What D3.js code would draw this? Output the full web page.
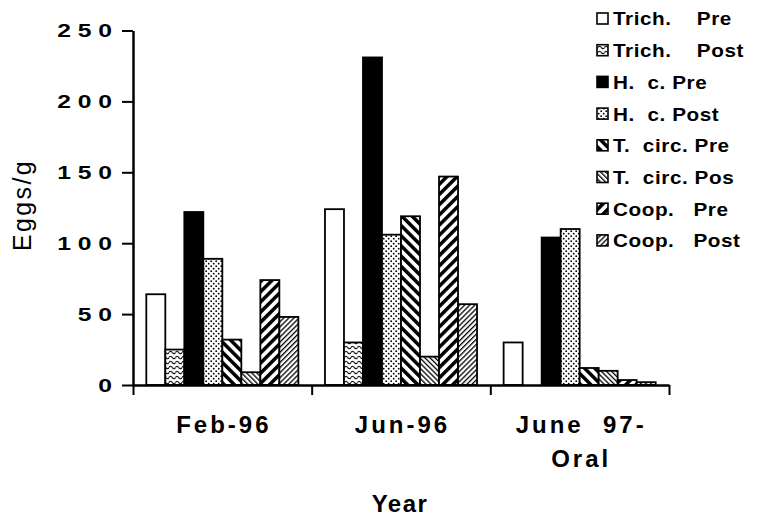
<!DOCTYPE html>
<html><head><meta charset="utf-8">
<script src="https://cdn.jsdelivr.net/npm/d3@7"></script>
<style>body{margin:0;background:#fff} svg{display:block;background:#fff}</style>
</head><body><svg id="c" width="760" height="517"></svg>
<script>
// ---- data ----
const categories = ["Feb-96", "Jun-96", "June 97-Oral"];
const categoryLines = [["Feb-96"], ["Jun-96"], ["June  97-", "Oral"]];
const seriesNames = ["Trich. Pre","Trich. Post","H. c. Pre","H. c. Post","T. circ. Pre","T. circ. Pos","Coop. Pre","Coop. Post"];
const legendLabels = ["Trich.    Pre","Trich.    Post","H.  c. Pre","H.  c. Post","T.  circ. Pre","T.  circ. Pos","Coop.   Pre","Coop.   Post"];
const trichPre  = [64, 124, 30];
const trichPost = [25, 30, 0];
const hcPre     = [122, 231, 104];
const hcPost    = [89, 106, 110];
const tcircPre  = [32, 119, 12];
const tcircPost = [9, 20, 10];
const coopPre   = [74, 147, 3.5];
const coopPost  = [48, 57, 2];
const yTicks = [0, 50, 100, 150, 200, 250];
const yTitle = "Eggs/g";
const xTitle = "Year";

const seriesValues = [trichPre, trichPost, hcPre, hcPost, tcircPre, tcircPost, coopPre, coopPost];
const fills = ["#fff","url(#wave)","#000","url(#dots)","url(#bsThick)","url(#bsThin)","url(#fsThick)","url(#fsThin)"];
const FONT = "'Liberation Sans', Arial, Helvetica, sans-serif";

const svg = d3.select("#c");
const defs = svg.append("defs");

// wavy pattern
const pw = defs.append("pattern").attr("id","wave").attr("patternUnits","userSpaceOnUse")
  .attr("width",6.5).attr("height",5);
pw.append("rect").attr("width",6.5).attr("height",5).attr("fill","#fff");
pw.append("path").attr("d","M0,2.5 Q1.625,0 3.25,2.5 T6.5,2.5").attr("fill","none").attr("stroke","#000").attr("stroke-width",1.2);

// dots
const pd = defs.append("pattern").attr("id","dots").attr("patternUnits","userSpaceOnUse")
  .attr("width",5).attr("height",5);
pd.append("rect").attr("width",5).attr("height",5).attr("fill","#fff");
pd.append("circle").attr("cx",1.2).attr("cy",1.2).attr("r",0.9).attr("fill","#000");
pd.append("circle").attr("cx",3.7).attr("cy",3.7).attr("r",0.9).attr("fill","#000");

function stripes(id, period, width, angle) {
  const p = defs.append("pattern").attr("id", id).attr("patternUnits","userSpaceOnUse")
    .attr("width", period).attr("height", period).attr("patternTransform", `rotate(${angle})`);
  p.append("rect").attr("width", period).attr("height", period).attr("fill","#fff");
  p.append("rect").attr("width", width).attr("height", period).attr("fill","#000");
}
stripes("bsThick", 7.2, 3.5, -45);
stripes("bsThin", 3.6, 1.3, -45);
stripes("fsThick", 7.2, 3.5, 45);
stripes("fsThin", 3.6, 1.3, 45);

// ---- scales ----
const mLeft = 133, mRight = 669, mTop = 30.5, mBottom = 385;
const y = d3.scaleLinear().domain([0, 250]).range([mBottom, mTop]);
const x0 = d3.scaleBand().domain(categories).range([mLeft, mRight]).padding(0);
const x1 = d3.scaleBand().domain(seriesNames).range([0, x0.bandwidth()]).paddingInner(0).paddingOuter(0.7);
const xb = d3.scaleLinear().domain([0, categories.length]).range([mLeft, mRight]);

// ---- bars ----
const g = svg.append("g");
categories.forEach((c, ci) => {
  seriesNames.forEach((s, si) => {
    const v = seriesValues[si][ci];
    if (v <= 0) return;
    g.append("rect")
      .attr("x", x0(c) + x1(s))
      .attr("y", y(v))
      .attr("width", x1.bandwidth())
      .attr("height", y(0) - y(v))
      .attr("fill", fills[si])
      .attr("stroke", "#000")
      .attr("stroke-width", 1.8);
  });
});

// ---- axes ----
const yAxis = svg.append("g").attr("transform", `translate(${mLeft},0)`)
  .call(d3.axisLeft(y).tickValues(yTicks).tickSize(11).tickSizeOuter(0).tickPadding(10));
yAxis.select(".domain").attr("stroke","#000").attr("stroke-width",2.5);
yAxis.selectAll(".tick line").attr("stroke","#000").attr("stroke-width",2);
const sx = 1.3, ls = 5.2;
yAxis.selectAll(".tick text")
  .attr("font-family", FONT)
  .attr("font-weight","bold").attr("font-size",19).attr("fill","#000")
  .attr("letter-spacing", ls)
  .attr("x", (-21 + ls * sx) / sx)
  .attr("transform", `scale(${sx},1)`);

const xAxis = svg.append("g").attr("transform", `translate(0,${mBottom})`)
  .call(d3.axisBottom(xb).tickValues(d3.range(categories.length + 1)).tickFormat("").tickSize(10).tickSizeOuter(0));
xAxis.select(".domain").attr("stroke","#000").attr("stroke-width",2.5);
xAxis.selectAll(".tick line").attr("stroke","#000").attr("stroke-width",2);

// category labels
categories.forEach((c, ci) => {
  const cx = x0(c) + x0.bandwidth() / 2 + 1.5;
  const t = svg.append("text")
    .attr("x", cx)
    .attr("y", 433)
    .attr("text-anchor","middle")
    .attr("font-family", FONT)
    .attr("font-weight","bold").attr("font-size",24)
    .attr("letter-spacing",3)
    .style("white-space","pre");
  categoryLines[ci].forEach((ln, li) => {
    t.append("tspan").attr("x", cx).attr("dy", li === 0 ? 0 : 34).text(ln);
  });
});

// titles
svg.append("text")
  .attr("x", (mLeft + mRight) / 2 - 1).attr("y", 512)
  .attr("text-anchor","middle")
  .attr("font-family", FONT)
  .attr("font-weight","bold").attr("font-size",24).attr("letter-spacing",1.5)
  .text(xTitle);

svg.append("text")
  .attr("transform","translate(31,205) rotate(-90)")
  .attr("text-anchor","middle")
  .attr("font-family", FONT)
  .attr("font-size",25).attr("letter-spacing",2.4)
  .text(yTitle);

// ---- legend ----
const lg = svg.append("g");
const lsx = 1.15;
seriesNames.forEach((s, i) => {
  const cy = 19 + i * 31.7;
  lg.append("rect").attr("x", 597).attr("y", cy - 6).attr("width", 11).attr("height", 11)
    .attr("fill", fills[i]).attr("stroke","#000").attr("stroke-width",1.6);
  lg.append("text").attr("x", 613 / lsx).attr("y", cy + 6.5)
    .attr("transform", `scale(${lsx},1)`)
    .attr("font-family", FONT)
    .attr("font-weight","bold").attr("font-size",18).attr("letter-spacing",0.5)
    .style("white-space","pre")
    .text(legendLabels[i]);
});
</script>
</body></html>
